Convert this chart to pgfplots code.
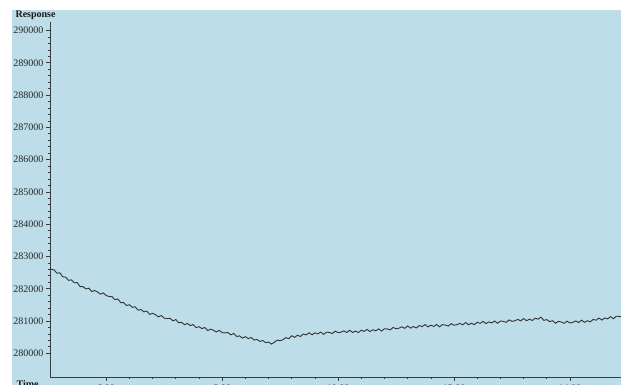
\documentclass[border=0pt]{standalone}
\usepackage{fontspec}
\setmainfont{Liberation Serif}
\usepackage{pgfplots}
\pgfplotsset{compat=1.18}
\definecolor{bgblue}{RGB}{189,222,232}
\definecolor{axgray}{RGB}{55,60,64}
\begin{document}
\begin{tikzpicture}
\fill[bgblue] (12pt,0pt) rectangle (621pt,375pt);
\begin{axis}[
  at={(50pt,8pt)}, anchor=south west,
  scale only axis, width=571pt, height=355pt,
  xmin=5.03, xmax=14.88, ymin=279266, ymax=290263,
  axis x line*=bottom, axis y line*=left,
  axis line style={axgray, line width=0.9pt},
  axis background/.style={fill=none},
  xtick={6,8,10,12,14}, minor x tick num=4,
  xticklabels={6.00,8.00,10.00,12.00,14.00},
  ytick={280000,281000,282000,283000,284000,285000,286000,287000,288000,289000,290000}, minor y tick num=4,
  yticklabels={280000,281000,282000,283000,284000,285000,286000,287000,288000,289000,290000},
  scaled y ticks=false, scaled x ticks=false,
  tick align=outside,
  major tick length=4pt, minor tick length=2.2pt,
  tick style={axgray, line width=0.7pt},
  yticklabel style={font=\fontsize{10}{12}\selectfont, text=black!85, xshift=1pt},
  xticklabel style={font=\fontsize{10}{12}\selectfont, text=black!85},
]
\addplot[black!80, line width=0.9pt] coordinates {
(5.03,282640)(5.05,282600)(5.10,282585)(5.15,282480)(5.20,282495)(5.25,282370)(5.30,282360)(5.35,282260)(5.40,282275)(5.45,282185)(5.50,282190)
(5.55,282065)(5.60,282065)(5.65,281994)(5.70,282018)(5.75,281911)(5.80,281945)(5.85,281899)(5.90,281833)(5.95,281871)(6.00,281790)
(6.05,281760)(6.10,281755)(6.15,281660)(6.20,281685)(6.25,281570)(6.30,281570)(6.35,281480)(6.40,281505)(6.45,281425)(6.50,281440)
(6.55,281335)(6.60,281355)(6.65,281285)(6.70,281310)(6.75,281205)(6.80,281240)(6.85,281195)(6.90,281130)(6.95,281170)(7.00,281090)
(7.05,281075)(7.10,281085)(7.15,281005)(7.20,281045)(7.25,280945)(7.30,280960)(7.35,280885)(7.40,280925)(7.45,280860)(7.50,280890)
(7.55,280795)(7.60,280825)(7.65,280765)(7.70,280800)(7.75,280705)(7.80,280750)(7.85,280715)(7.90,280660)(7.95,280710)(8.00,280640)
(8.05,280630)(8.10,280645)(8.15,280570)(8.20,280615)(8.25,280520)(8.30,280540)(8.35,280470)(8.40,280515)(8.45,280455)(8.50,280490)
(8.55,280410)(8.60,280430)(8.65,280370)(8.70,280395)(8.75,280330)(8.80,280350)(8.85,280285)(8.90,280340)(8.95,280410)(9.00,280390)
(9.05,280425)(9.10,280485)(9.15,280455)(9.20,280545)(9.25,280495)(9.30,280560)(9.35,280522)(9.40,280598)(9.45,280570)(9.50,280637)
(9.55,280573)(9.60,280635)(9.65,280599)(9.70,280658)(9.75,280586)(9.80,280655)(9.85,280644)(9.90,280613)(9.95,280686)(10.00,280640)
(10.05,280655)(10.10,280695)(10.15,280645)(10.20,280715)(10.25,280645)(10.30,280690)(10.35,280645)(10.40,280715)(10.45,280680)(10.50,280740)
(10.55,280672)(10.60,280729)(10.65,280696)(10.70,280758)(10.75,280690)(10.80,280762)(10.85,280754)(10.90,280726)(10.95,280803)(11.00,280760)
(11.05,280778)(11.10,280821)(11.15,280774)(11.20,280847)(11.25,280780)(11.30,280828)(11.35,280786)(11.40,280859)(11.45,280827)(11.50,280890)
(11.55,280818)(11.60,280871)(11.65,280834)(11.70,280892)(11.75,280820)(11.80,280888)(11.85,280876)(11.90,280844)(11.95,280917)(12.00,280870)
(12.05,280887)(12.10,280929)(12.15,280881)(12.20,280953)(12.25,280885)(12.30,280932)(12.35,280889)(12.40,280961)(12.45,280928)(12.50,280990)
(12.55,280920)(12.60,280975)(12.65,280940)(12.70,281000)(12.75,280930)(12.80,281000)(12.85,280990)(12.90,280960)(12.95,281035)(13.00,280990)
(13.05,281008)(13.10,281051)(13.15,281004)(13.20,281077)(13.25,281010)(13.30,281058)(13.35,281016)(13.40,281089)(13.45,281057)(13.50,281120)
(13.55,281020)(13.60,281045)(13.65,280980)(13.70,281010)(13.75,280930)(13.80,280990)(13.85,280970)(13.90,280930)(13.95,280995)(14.00,280940)
(14.05,280958)(14.10,281001)(14.15,280954)(14.20,281027)(14.25,280960)(14.30,281010)(14.35,280973)(14.40,281051)(14.45,281024)(14.50,281092)
(14.55,281030)(14.60,281095)(14.65,281067)(14.70,281134)(14.75,281071)(14.80,281148)(14.85,281145)(14.88,281130)
};
\end{axis}
\node[anchor=west, font=\bfseries\fontsize{10}{12}\selectfont, text=black!90] at (12pt,370pt) {Response};
\node[anchor=north west, font=\bfseries\fontsize{10}{12}\selectfont, text=black!90] at (13pt,8pt) {Time};
\pgfresetboundingbox
\path (0pt,0pt) rectangle (621pt,385pt);
\end{tikzpicture}
\end{document}
